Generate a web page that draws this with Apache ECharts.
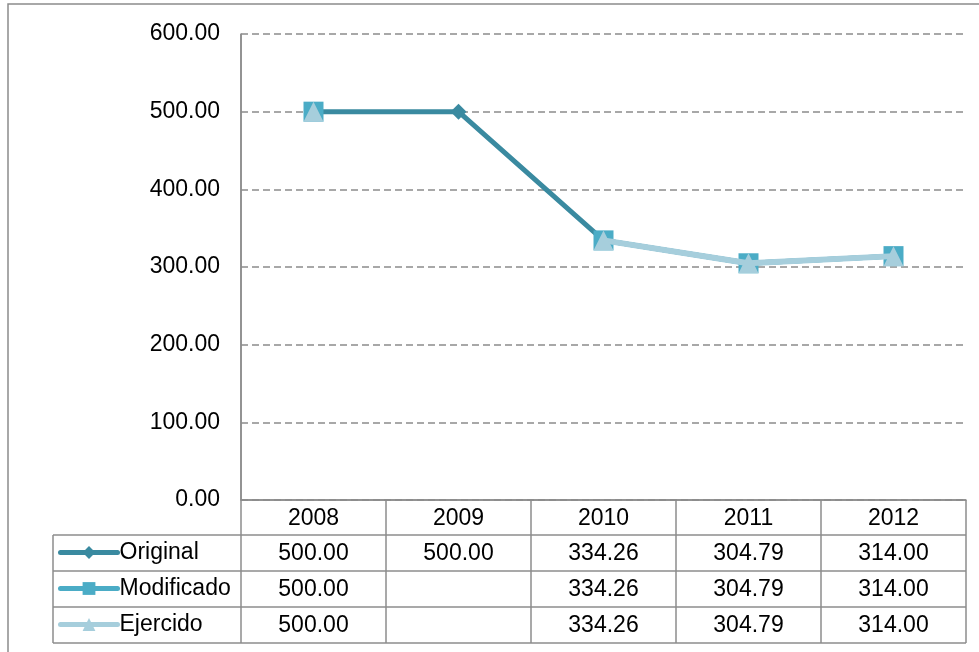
<!DOCTYPE html>
<html>
<head>
<meta charset="utf-8">
<script src="https://cdn.jsdelivr.net/npm/echarts@6/dist/echarts.min.js"></script>
<style>
	html, body { margin: 0; padding: 0; background: #ffffff; }
	#chart { width: 979px; height: 652px; }
</style>
</head>
<body>
<div id="chart"></div>
<script>
	// values
	var years = [ "2008", "2009", "2010", "2011", "2012" ];
	var original = [ 500.00, 500.00, 334.26, 304.79, 314.00 ];
	var modificado = [ 500.00, null, 334.26, 304.79, 314.00 ];
	var ejercido = [ 500.00, null, 334.26, 304.79, 314.00 ];
	var yTicks = [ 0, 100, 200, 300, 400, 500, 600 ];

	var font = "Liberation Sans, Arial, sans-serif";
	var fontSize = 23;
	var lineGray = "#8c8c8c";

	var gridLeft = 241, gridTop = 34, gridRight = 13, gridBottom = 152;
	var plotRight = 979 - gridRight;
	var colWidth = (plotRight - gridLeft) / years.length;
	var rowLines = [ 500, 535, 571, 607, 643 ];
	var legendLeft = 53;

	function fmt(v) {
		return v === null || v === undefined ? "" : v.toFixed(2);
	}

	function rowAxis(values, offset) {
		return {
			type : "category",
			data : years,
			position : "bottom",
			offset : offset,
			boundaryGap : true,
			axisLine : { show : false },
			axisTick : { show : false },
			axisLabel : {
				interval : 0,
				margin : 7,
				fontSize : fontSize,
				fontFamily : font,
				color : "#000000",
				formatter : function(value, index) {
					return values ? fmt(values[index]) : value;
				}
			}
		};
	}

	// table borders (layout only)
	var tableLines = [];
	function addLine(x1, y1, x2, y2) {
		tableLines.push({
			type : "line",
			shape : { x1 : x1, y1 : y1, x2 : x2, y2 : y2 },
			style : { stroke : lineGray, lineWidth : 1.5 },
			silent : true
		});
	}
	for (var r = 0; r < rowLines.length; r++) {
		addLine(r === 0 ? gridLeft : legendLeft, rowLines[r], plotRight, rowLines[r]);
	}
	for (var c = 0; c <= years.length; c++) {
		var x = gridLeft + c * colWidth;
		addLine(x, c === 0 ? gridTop : rowLines[0], x, rowLines[rowLines.length - 1]);
	}
	addLine(legendLeft, rowLines[1], legendLeft, rowLines[rowLines.length - 1]);
	// outer chart frame
	tableLines.push({
		type : "rect",
		shape : { x : 8, y : 4, width : 1000, height : 700 },
		style : { fill : null, stroke : lineGray, lineWidth : 1.5 },
		silent : true
	});

	var chart = echarts.init(document.getElementById("chart"), null, { renderer : "canvas" });
	chart.setOption({
		animation : false,
		backgroundColor : "#ffffff",
		grid : { left : gridLeft, top : gridTop, right : gridRight, bottom : gridBottom },
		legend : {
			orient : "vertical",
			left : 58,
			top : 541,
			padding : 0,
			itemWidth : 57,
			itemHeight : 16,
			itemGap : 13,
			lineStyle : { width : 5, cap : "round" },
			textStyle : { fontSize : fontSize, fontFamily : font, color : "#000000", padding : [ 0, 0, 0, -3 ] },
			data : [ "Original", "Modificado", "Ejercido" ]
		},
		xAxis : [ {
			type : "category",
			data : years,
			boundaryGap : true,
			axisLine : { show : true, lineStyle : { color : lineGray, width : 1.5 } },
			axisTick : { show : false },
			axisLabel : { show : false }
		}, rowAxis(null, 0), rowAxis(original, 35), rowAxis(modificado, 71), rowAxis(ejercido, 107) ],
		yAxis : {
			type : "value",
			min : yTicks[0],
			max : yTicks[yTicks.length - 1],
			interval : 100,
			axisLine : { show : true, lineStyle : { color : lineGray, width : 1.5 } },
			axisTick : { show : false },
			axisLabel : {
				margin : 21,
				fontSize : fontSize,
				fontFamily : font,
				color : "#000000",
				formatter : function(v) {
					return v.toFixed(2);
				}
			},
			splitLine : { show : true, lineStyle : { color : lineGray, width : 1.5, type : [ 7, 4 ] } }
		},
		series : [ {
			name : "Original",
			type : "line",
			data : original,
			symbol : "diamond",
			symbolSize : 16,
			itemStyle : { color : "#3a8aa0" },
			lineStyle : { color : "#3a8aa0", width : 5 },
			z : 2
		}, {
			name : "Modificado",
			type : "line",
			data : modificado,
			symbol : "rect",
			symbolSize : 20,
			itemStyle : { color : "#4bacc6" },
			lineStyle : { color : "#4bacc6", width : 5 },
			z : 3
		}, {
			name : "Ejercido",
			type : "line",
			data : ejercido,
			symbol : "triangle",
			symbolSize : 20,
			itemStyle : { color : "#a6cedc" },
			lineStyle : { color : "#a6cedc", width : 6 },
			z : 4
		} ],
		graphic : tableLines
	});
</script>
</body>
</html>
